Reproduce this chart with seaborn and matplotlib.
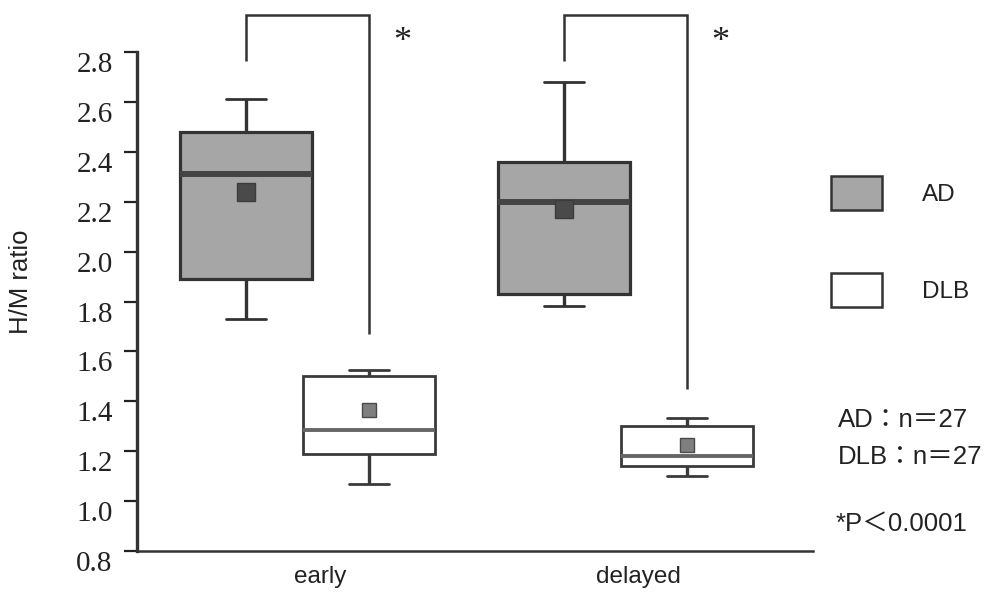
import numpy as np
import pandas as pd
import matplotlib
matplotlib.use("Agg")
import matplotlib.pyplot as plt
from matplotlib.transforms import ScaledTranslation
from matplotlib.patches import Rectangle
from matplotlib.ticker import FormatStrFormatter
import seaborn as sns

# ---------------- data ----------------
timepoints = ["early", "delayed"]
groups = ["AD", "DLB"]

ad_whislo = [1.73, 1.78]
ad_q1 = [1.89, 1.83]
ad_median = [2.31, 2.20]
ad_q3 = [2.48, 2.36]
ad_whishi = [2.61, 2.68]
ad_mean = [2.24, 2.17]

dlb_whislo = [1.07, 1.10]
dlb_q1 = [1.19, 1.14]
dlb_median = [1.285, 1.18]
dlb_q3 = [1.50, 1.30]
dlb_whishi = [1.525, 1.335]
dlb_mean = [1.365, 1.225]

n_counts = [27, 27]
p_label = "*P＜0.0001"
ytick_values = [0.8, 1.0, 1.2, 1.4, 1.6, 1.8, 2.0, 2.2, 2.4, 2.6, 2.8]

# significance brackets (y values)
bracket_top = 2.95
bracket_left_end = [2.765, 2.765]
bracket_right_end = [1.67, 1.45]

# ---------------- tables ----------------
box_rows = []
for g, stats in (("AD", (ad_whislo, ad_q1, ad_median, ad_q3, ad_whishi)),
                 ("DLB", (dlb_whislo, dlb_q1, dlb_median, dlb_q3, dlb_whishi))):
    for i, t in enumerate(timepoints):
        for s in stats:
            box_rows.append({"time": t, "group": g, "ratio": s[i]})
box_df = pd.DataFrame(box_rows)

mean_rows = []
for g, m in (("AD", ad_mean), ("DLB", dlb_mean)):
    for i, t in enumerate(timepoints):
        mean_rows.append({"time": t, "group": g, "ratio": m[i]})
mean_df = pd.DataFrame(mean_rows)

# ---------------- style ----------------
sns.set_style("ticks")
plt.rcParams["font.family"] = ["Liberation Sans", "Noto Sans CJK JP"]

W, H = 988, 595
fig = plt.figure(figsize=(W / 100, H / 100), dpi=100)
ax = fig.add_axes([137 / W, 1 - 551 / H, 676 / W, 499 / H])

WIDTH = 0.774
GAP = -0.075
EDGE = "#333333"
fills = {"AD": "#a6a6a6", "DLB": "#ffffff"}

sns.boxplot(data=box_df[box_df["group"] == "AD"], x="time", y="ratio",
            hue="group", order=timepoints, hue_order=groups, palette=fills,
            dodge=True, width=WIDTH, gap=GAP, whis=(0, 100), saturation=1,
            linewidth=2.3, linecolor=EDGE,
            medianprops=dict(color="#444444", linewidth=4.3),
            whiskerprops=dict(linewidth=2.4),
            capprops=dict(linewidth=2.0),
            capwidths=0.125, legend=False, ax=ax)
sns.boxplot(data=box_df[box_df["group"] == "DLB"], x="time", y="ratio",
            hue="group", order=timepoints, hue_order=groups, palette=fills,
            dodge=True, width=WIDTH, gap=GAP, whis=(0, 100), saturation=1,
            linewidth=2.0, linecolor="#3a3a3a",
            medianprops=dict(color="#666666", linewidth=2.8),
            whiskerprops=dict(linewidth=2.4),
            capprops=dict(linewidth=2.0),
            capwidths=0.125, legend=False, ax=ax)

sns.pointplot(data=mean_df[mean_df["group"] == "AD"], x="time", y="ratio",
              hue="group", order=timepoints, hue_order=groups,
              palette={"AD": "#4a4a4a", "DLB": "#7f7f7f"}, dodge=WIDTH / 2,
              errorbar=None, marker="s", linestyle="none", markersize=12.5,
              markeredgecolor="#3c3c3c", markeredgewidth=1.0,
              legend=False, zorder=6, ax=ax)
sns.pointplot(data=mean_df[mean_df["group"] == "DLB"], x="time", y="ratio",
              hue="group", order=timepoints, hue_order=groups,
              palette={"AD": "#4a4a4a", "DLB": "#7f7f7f"}, dodge=WIDTH / 2,
              errorbar=None, marker="s", linestyle="none", markersize=10.5,
              markeredgecolor="#4a4a4a", markeredgewidth=1.0,
              legend=False, zorder=6, ax=ax)

# significance brackets and stars
for i in range(len(timepoints)):
    xa = i - WIDTH / 4
    xd = i + WIDTH / 4
    ax.plot([xa, xa, xd, xd],
            [bracket_left_end[i], bracket_top, bracket_top, bracket_right_end[i]],
            color=EDGE, lw=1.8, clip_on=False, solid_joinstyle="miter",
            solid_capstyle="butt")
    ax.text(xd + 0.105, 2.84, "*", ha="center", va="center", fontsize=26,
            family="Liberation Serif", color="#222222", clip_on=False)

# axes
ax.set_xlim(-0.536, 1.590)
ax.set_ylim(0.8, 2.8)
ax.set_yticks(ytick_values)
ax.yaxis.set_major_formatter(FormatStrFormatter("%.1f"))
ax.set_xticks(range(len(timepoints)))
ax.set_xticklabels(timepoints)
ax.set_xlabel("")
ax.set_ylabel("H/M ratio", fontsize=18.5, va="center", color="#222222")
ax.yaxis.set_label_coords(-0.1716, 0.539)

for s in ("top", "right"):
    ax.spines[s].set_visible(False)
ax.spines["left"].set_linewidth(2.4)
ax.spines["left"].set_color(EDGE)
ax.spines["bottom"].set_linewidth(1.8)
ax.spines["bottom"].set_color(EDGE)

ax.tick_params(axis="y", direction="out", length=9.5, width=1.6, pad=8,
               labelsize=21, colors="#222222")
ax.tick_params(axis="x", length=0, pad=11, labelsize=17.5, colors="#222222")
for lbl in ax.get_yticklabels():
    lbl.set_family("Liberation Serif")
    lbl.set_transform(lbl.get_transform() +
                      ScaledTranslation(0, -10 / 100, fig.dpi_scale_trans))
for lbl in ax.get_xticklabels():
    lbl.set_transform(lbl.get_transform() +
                      ScaledTranslation(13 / 100, 0, fig.dpi_scale_trans))

# legend (manual, to match the reference layout)
for g, top_px in (("AD", 176), ("DLB", 273)):
    fig.add_artist(Rectangle((831 / W, 1 - (top_px + 34) / H), 51 / W, 34 / H,
                             transform=fig.transFigure, facecolor=fills[g],
                             edgecolor=EDGE, linewidth=1.8))
    fig.text(922 / W, 1 - (top_px + 19) / H, g, ha="left", va="center",
             fontsize=17.5, color="#222222")

fig.text(838 / W, 1 - 420 / H, f"AD：n＝{n_counts[0]}", ha="left", va="center",
         fontsize=18.5, color="#222222")
fig.text(838 / W, 1 - 457 / H, f"DLB：n＝{n_counts[1]}", ha="left", va="center",
         fontsize=18.5, color="#222222")
fig.text(836 / W, 1 - 524 / H, p_label, ha="left", va="center",
         fontsize=18.5, color="#222222")

fig.savefig("out.png", dpi=100)
